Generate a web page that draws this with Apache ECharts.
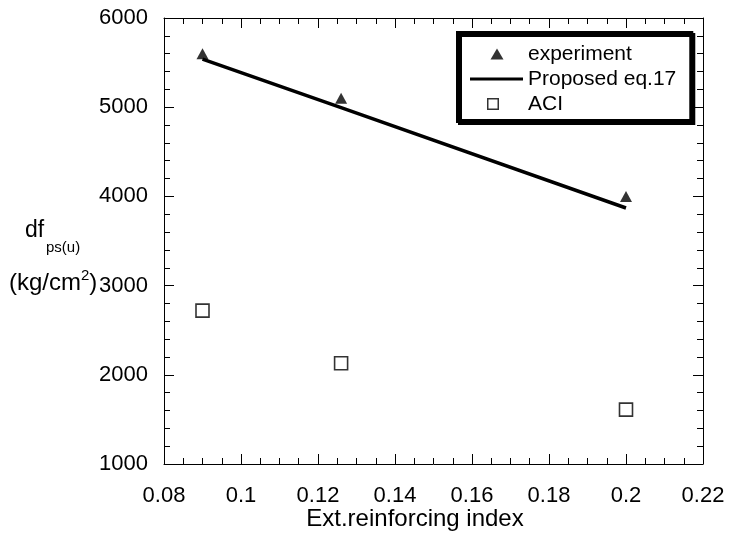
<!DOCTYPE html>
<html>
<head>
<meta charset="utf-8">
<script src="https://cdn.jsdelivr.net/npm/echarts@6/dist/echarts.min.js"></script>
<style>html,body{margin:0;padding:0;background:#fff;}#c{width:729px;height:541px;}</style>
</head>
<body>
<div id="c"></div>
<script>
const xExperiment = [0.09, 0.126, 0.2];
const yExperiment = [5600, 5100, 4000];
const xProposed = [0.09, 0.126, 0.2];
const yProposed = [5540, 4995, 3870];
const xACI = [0.09, 0.126, 0.2];
const yACI = [2720, 2130, 1610];
const seriesNames = ['experiment', 'Proposed eq.17', 'ACI'];
const xAxisTitle = 'Ext.reinforcing index';

const FONT = 'Liberation Sans, Arial, sans-serif';
const zip = (xs, ys) => xs.map((x, i) => [x, ys[i]]);

const chart = echarts.init(document.getElementById('c'), null, {renderer: 'canvas'});
const axisCommon = {
  axisLine: {show: true, onZero: false, lineStyle: {color: '#000', width: 1}},
  axisTick: {show: true, inside: true, length: 10, lineStyle: {color: '#000', width: 1}},
  minorTick: {show: true, length: 6, lineStyle: {color: '#000', width: 1}},
  splitLine: {show: false},
  axisLabel: {color: '#000', fontFamily: FONT, fontSize: 22}
};
// legend icons: moveTo corners fix the icon box to the 53x12 slot
const iconTri = 'path://M0 0 M53 12 M27 0.5 L33.5 11.5 L20.5 11.5 Z';
const iconLine = 'path://M0 0 M53 12 M0 4.5 L53 4.5 L53 7.5 L0 7.5 Z';
const iconBox = 'path://M0 0 M53 12 M17 0 L29 0 L29 12 L17 12 Z M18.5 1.5 L18.5 10.5 L27.5 10.5 L27.5 1.5 Z';

chart.setOption({
  animation: false,
  backgroundColor: '#fff',
  grid: {left: 164, right: 26, top: 18, bottom: 77, containLabel: false},
  xAxis: [
    Object.assign({}, axisCommon, {
      type: 'value', min: 0.08, max: 0.22, interval: 0.02, position: 'bottom',
      minorTick: Object.assign({}, axisCommon.minorTick, {splitNumber: 4}),
      axisLabel: Object.assign({}, axisCommon.axisLabel, {margin: 21})
    }),
    Object.assign({}, axisCommon, {
      type: 'value', min: 0.08, max: 0.22, interval: 0.02, position: 'top',
      minorTick: Object.assign({}, axisCommon.minorTick, {splitNumber: 4}),
      axisLabel: {show: false}
    })
  ],
  yAxis: [
    Object.assign({}, axisCommon, {
      type: 'value', min: 1000, max: 6000, interval: 1000, position: 'left',
      minorTick: Object.assign({}, axisCommon.minorTick, {splitNumber: 5}),
      axisLabel: Object.assign({}, axisCommon.axisLabel, {margin: 16, formatter: v => String(v)})
    }),
    Object.assign({}, axisCommon, {
      type: 'value', min: 1000, max: 6000, interval: 1000, position: 'right',
      minorTick: Object.assign({}, axisCommon.minorTick, {splitNumber: 5}),
      axisLabel: {show: false}
    })
  ],
  legend: {
    orient: 'vertical', left: 458, top: 33,
    data: [
      {name: seriesNames[0], icon: iconTri, itemStyle: {color: '#000', borderWidth: 0}},
      {name: seriesNames[1], icon: iconLine, itemStyle: {color: '#000', borderWidth: 0}},
      {name: seriesNames[2], icon: iconBox, itemStyle: {color: '#000', borderWidth: 0}}
    ],
    itemWidth: 53, itemHeight: 12, itemGap: 3,
    padding: [10, 15, 6, 12],
    borderColor: '#000', borderWidth: 4, backgroundColor: '#fff',
    shadowColor: '#000', shadowOffsetX: 2, shadowOffsetY: 2, shadowBlur: 0,
    textStyle: {color: '#000', fontFamily: FONT, fontSize: 21, lineHeight: 22},
    selectedMode: false
  },
  graphic: [
    {type: 'text', left: 25, top: 219, style: {text: 'df', fill: '#000', font: '23px ' + FONT}},
    {type: 'text', left: 46, top: 240, style: {text: 'ps(u)', fill: '#000', font: '15px ' + FONT}},
    {type: 'text', left: 9, top: 268, style: {
      text: '{a|(kg/cm}{s|2}{a|)}',
      rich: {
        a: {fill: '#000', fontFamily: FONT, fontSize: 24, lineHeight: 27, verticalAlign: 'bottom'},
        s: {fill: '#000', fontFamily: FONT, fontSize: 15, lineHeight: 27, verticalAlign: 'top'}
      }
    }},
    {type: 'text', x: 415, y: 519, style: {
      text: xAxisTitle, fill: '#000', font: '24px ' + FONT, align: 'center', verticalAlign: 'middle'
    }}
  ],
  series: [
    {
      name: seriesNames[0], type: 'scatter', data: zip(xExperiment, yExperiment),
      symbol: 'triangle', symbolSize: [12, 11],
      itemStyle: {color: '#000'}, z: 3
    },
    {
      name: seriesNames[1], type: 'line', data: zip(xProposed, yProposed),
      symbol: 'none', showSymbol: false,
      lineStyle: {color: '#000', width: 3.5}, itemStyle: {color: '#000'}, z: 2
    },
    {
      name: seriesNames[2], type: 'scatter', data: zip(xACI, yACI),
      symbol: 'rect', symbolSize: 13,
      itemStyle: {color: '#fff', borderColor: '#000', borderWidth: 1.6}, z: 3
    }
  ]
});
</script>
</body>
</html>
